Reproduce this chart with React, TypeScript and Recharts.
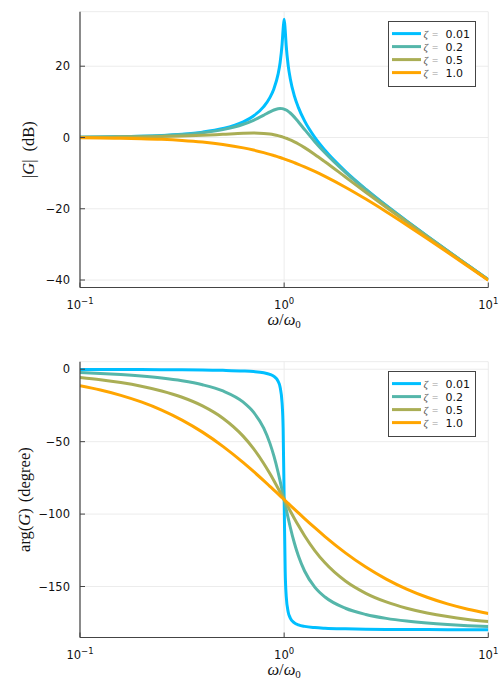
import React from 'react';
import { LineChart, Line, XAxis, YAxis, CartesianGrid, Legend } from 'recharts';

// normalised frequency omega/omega0 (log-spaced samples)
const omega = [0.1, 0.1259, 0.1585, 0.1995, 0.2512, 0.3162, 0.3981, 0.5012, 0.631, 0.7079, 0.7943, 0.8511, 0.8913, 0.9333, 0.955, 0.9772, 0.9886, 1, 1.0116, 1.0233, 1.0471, 1.0715, 1.122, 1.1749, 1.2589, 1.4125, 1.5849, 1.9953, 2.5119, 3.1623, 3.9811, 5.0119, 6.3096, 7.9433, 10];

// |G| in dB
const magZ001 = [0.09, 0.14, 0.22, 0.35, 0.57, 0.92, 1.5, 2.51, 4.41, 6.04, 8.65, 11.18, 13.7, 17.7, 20.91, 26.18, 30.41, 33.2, 30.21, 25.78, 20.11, 16.5, 11.7, 8.38, 4.65, 0.04, -3.59, -9.49, -14.5, -19.09, -23.43, -27.65, -31.78, -35.86, -39.91];
const magZ02 = [0.08, 0.13, 0.2, 0.32, 0.52, 0.83, 1.35, 2.21, 3.71, 4.83, 6.25, 7.17, 7.71, 8.07, 8.13, 8.1, 8.04, 7.96, 7.84, 7.7, 7.33, 6.87, 5.71, 4.37, 2.25, -1.17, -4.29, -9.79, -14.65, -19.17, -23.48, -27.68, -31.8, -35.87, -39.92];
const magZ05 = [0.04, 0.07, 0.11, 0.17, 0.26, 0.41, 0.62, 0.9, 1.19, 1.25, 1.15, 0.97, 0.77, 0.52, 0.36, 0.19, 0.1, 0, -0.1, -0.21, -0.44, -0.68, -1.23, -1.83, -2.85, -4.75, -6.81, -11.1, -15.38, -19.59, -23.74, -27.83, -31.89, -35.93, -39.96];
const magZ1 = [-0.09, -0.14, -0.22, -0.34, -0.53, -0.83, -1.28, -1.95, -2.91, -3.53, -4.25, -4.73, -5.08, -5.44, -5.63, -5.82, -5.92, -6.02, -6.12, -6.22, -6.43, -6.64, -7.08, -7.53, -8.25, -9.53, -10.91, -13.95, -17.28, -20.83, -24.53, -28.34, -32.22, -36.14, -40.09];

// arg(G) in degrees
const phZ001 = [-0.12, -0.15, -0.19, -0.24, -0.31, -0.4, -0.54, -0.77, -1.2, -1.63, -2.47, -3.54, -4.95, -8.23, -12.25, -23.47, -40.97, -90, -139.03, -156.53, -167.75, -171.77, -175.05, -176.46, -177.54, -178.37, -178.8, -179.23, -179.46, -179.6, -179.69, -179.76, -179.81, -179.85, -179.88];
const phZ02 = [-2.31, -2.93, -3.72, -4.75, -6.12, -8.0, -10.72, -14.99, -22.75, -29.59, -40.72, -51.01, -60.02, -70.93, -77.03, -83.43, -86.71, -90, -93.29, -96.57, -102.97, -109.07, -119.98, -128.99, -139.28, -150.41, -157.25, -165.01, -169.28, -172.0, -173.88, -175.25, -176.28, -177.07, -177.69];
const phZ05 = [-5.77, -7.29, -9.23, -11.74, -15.01, -19.36, -25.32, -33.8, -46.35, -54.83, -65.08, -72.06, -77.01, -82.13, -84.74, -87.36, -88.68, -90, -91.32, -92.64, -95.26, -97.87, -102.99, -107.94, -114.92, -125.17, -133.65, -146.2, -154.68, -160.64, -164.99, -168.26, -170.77, -172.71, -174.23];
const phZ1 = [-11.42, -14.35, -18.01, -22.57, -28.2, -35.1, -43.42, -53.24, -64.5, -70.6, -76.92, -80.8, -83.4, -86.05, -87.37, -88.68, -89.34, -90, -90.66, -91.32, -92.63, -93.95, -96.6, -99.2, -103.08, -109.4, -115.5, -126.76, -136.58, -144.9, -151.8, -157.43, -161.99, -165.65, -168.58];

const zetaLabels = ['0.01', '0.2', '0.5', '1.0'];
const colors = ['#00BFFF', '#55B6AA', '#AAAE55', '#FFA500'];
const xTicks = [0.1, 1, 10];
const xTickExponents = ['\u22121', '0', '1'];
const magTicks = [-40, -20, 0, 20];
const phaseTicks = [-150, -100, -50, 0];

const magData = omega.map((w, i) => ({ w, s0: magZ001[i], s1: magZ02[i], s2: magZ05[i], s3: magZ1[i] }));
const phaseData = omega.map((w, i) => ({ w, s0: phZ001[i], s1: phZ02[i], s2: phZ05[i], s3: phZ1[i] }));

const W = 500;
const H = 350;
const PLOT_LEFT = 80;
const PLOT_RIGHT = 488.3;
const PLOT_TOP = 11.7;
const PLOT_BOTTOM = 287.5;
const AXIS_COLOR = '#444';
const SANS = '"DejaVu Sans", sans-serif';
const SERIF = '"Liberation Serif", "DejaVu Serif", serif';
const TICK_SIZE = 11.5;

const XTick = (props: any) => {
  const { x, y, payload } = props;
  const idx = xTicks.indexOf(payload.value);
  const exp = idx >= 0 ? xTickExponents[idx] : '';
  return (
    <g>
      <line x1={x} x2={x} y1={y} y2={y - 5} stroke={AXIS_COLOR} strokeWidth={1} />
      <text x={x} y={y + 21} textAnchor="middle" fontFamily={SANS} fontSize={TICK_SIZE} fill="#111">
        10<tspan dy={-5} fontSize={8.5}>{exp}</tspan>
      </text>
    </g>
  );
};

const YTick = (props: any) => {
  const { x, y, payload } = props;
  const v = payload.value;
  const label = v < 0 ? '\u2212' + Math.abs(v) : String(v);
  return (
    <g>
      <line x1={x} x2={x + 5} y1={y} y2={y} stroke={AXIS_COLOR} strokeWidth={1} />
      <text x={x - 10} y={y} dy="0.36em" textAnchor="end" fontFamily={SANS} fontSize={TICK_SIZE} fill="#111">
        {label}
      </text>
    </g>
  );
};

const XLabel = () => (
  <text x={(PLOT_LEFT + PLOT_RIGHT) / 2} y={325} textAnchor="middle" fontFamily={SERIF} fontSize={16.5} fill="#111">
    <tspan fontStyle="italic">ω</tspan>
    <tspan>/</tspan>
    <tspan fontStyle="italic">ω</tspan>
    <tspan fontSize={11} dy={3}>0</tspan>
  </text>
);

const MagYLabel = () => {
  const cx = 28;
  const cy = (PLOT_TOP + PLOT_BOTTOM) / 2;
  return (
    <text x={cx} y={cy} transform={`rotate(-90, ${cx}, ${cy})`} textAnchor="middle" dominantBaseline="central" fontFamily={SERIF} fontSize={16.5} fill="#111">
      <tspan>|</tspan>
      <tspan fontStyle="italic">G</tspan>
      <tspan>|</tspan>
      <tspan dx={8}>(dB)</tspan>
    </text>
  );
};

const PhaseYLabel = () => {
  const cx = 24;
  const cy = (PLOT_TOP + PLOT_BOTTOM) / 2;
  return (
    <text x={cx} y={cy} transform={`rotate(-90, ${cx}, ${cy})`} textAnchor="middle" dominantBaseline="central" fontFamily={SERIF} fontSize={16.5} fill="#111">
      <tspan>arg(</tspan>
      <tspan fontStyle="italic">G</tspan>
      <tspan>)</tspan>
      <tspan dx={6}>(degree)</tspan>
    </text>
  );
};

const LegendBox = () => (
  <svg width={88} height={66} style={{ display: 'block' }}>
    <rect x={0.5} y={0.5} width={87} height={65} fill="#fff" stroke={AXIS_COLOR} strokeWidth={1} />
    {zetaLabels.map((z, i) => {
      const yy = 12.6 + 13 * i;
      return (
        <g key={z}>
          <line x1={4} x2={33} y1={yy} y2={yy} stroke={colors[i]} strokeWidth={3} />
          <text y={yy} dy="0.36em" fontSize={11}>
            <tspan x={35.5} fontFamily={SERIF} fontStyle="italic" fill="#555">ζ</tspan>
            <tspan x={44} fontFamily={SERIF} fill="#999">=</tspan>
            <tspan x={57.5} fontFamily={SANS} fill="#111">{z}</tspan>
          </text>
        </g>
      );
    })}
  </svg>
);

const Panel = ({ data, domain, ticks, yLabel }: { data: any[]; domain: [number, number]; ticks: number[]; yLabel: React.ReactNode }) => (
  <LineChart
    width={W}
    height={H}
    data={data}
    margin={{ top: PLOT_TOP, right: W - PLOT_RIGHT, bottom: H - PLOT_BOTTOM - 40, left: 0 }}
  >
    <CartesianGrid stroke="#ececec" strokeWidth={1} />
    <XAxis
      dataKey="w"
      type="number"
      scale="log"
      domain={[0.1, 10]}
      ticks={xTicks}
      allowDataOverflow
      height={40}
      tickSize={0}
      tickMargin={0}
      tickLine={false}
      tick={(p: any) => <XTick {...p} />}
      axisLine={{ stroke: AXIS_COLOR, strokeWidth: 1.2 }}
      label={{ content: () => <XLabel /> }}
    />
    <YAxis
      type="number"
      domain={domain}
      ticks={ticks}
      allowDataOverflow
      width={PLOT_LEFT}
      tickSize={0}
      tickMargin={0}
      tickLine={false}
      tick={(p: any) => <YTick {...p} />}
      axisLine={{ stroke: AXIS_COLOR, strokeWidth: 1.2 }}
      label={{ content: () => yLabel }}
    />
    <Legend
      layout="vertical"
      align="center"
      verticalAlign="middle"
      wrapperStyle={{ left: 387.7, top: 20.7, width: 88, height: 66 }}
      content={() => <LegendBox />}
    />
    {['s0', 's1', 's2', 's3'].map((k, i) => (
      <Line
        key={k}
        dataKey={k}
        name={'ζ = ' + zetaLabels[i]}
        type="monotone"
        stroke={colors[i]}
        strokeWidth={3}
        dot={false}
        activeDot={false}
        isAnimationActive={false}
      />
    ))}
  </LineChart>
);

export default function App() {
  return (
    <div style={{ position: 'absolute', left: 0, top: 0, width: W, height: 2 * H, background: '#fff' }}>
      <div style={{ position: 'absolute', left: 0, top: 0 }}>
        <Panel data={magData} domain={[-42.1, 35.3]} ticks={magTicks} yLabel={<MagYLabel />} />
      </div>
      <div style={{ position: 'absolute', left: 0, top: H }}>
        <Panel data={phaseData} domain={[-185.2, 5.2]} ticks={phaseTicks} yLabel={<PhaseYLabel />} />
      </div>
    </div>
  );
}
